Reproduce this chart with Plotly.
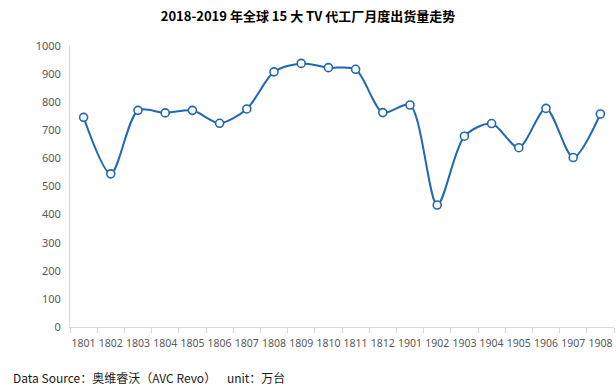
import plotly.graph_objects as go

months = ["1801", "1802", "1803", "1804", "1805", "1806", "1807", "1808", "1809", "1810",
          "1811", "1812", "1901", "1902", "1903", "1904", "1905", "1906", "1907", "1908"]
shipments = [746, 545, 771, 762, 771, 725, 776, 908, 938, 923,
             917, 763, 790, 434, 679, 724, 638, 778, 603, 758]
y_ticks = list(range(0, 1001, 100))

title_text = "2018-2019 年全球 15 大 TV 代工厂月度出货量走势"
source_text = "Data Source：奥维睿沃（AVC Revo）    unit：万台"

fig = go.Figure()
fig.add_trace(go.Scatter(
    x=months, y=shipments, mode="lines+markers",
    line=dict(color="#2067B4", width=2, shape="spline", smoothing=0.8),
    marker=dict(symbol="circle", size=8, color="white",
                line=dict(color="#2067B4", width=1.6)),
    cliponaxis=False,
))

fig.update_layout(
    width=616, height=387,
    margin=dict(l=70, r=2, t=46, b=60, autoexpand=False),
    paper_bgcolor="white", plot_bgcolor="white",
    showlegend=False,
    font=dict(family="Noto Sans CJK SC, Noto Sans, sans-serif", color="#595959", size=11),
    title=dict(text="<b>" + title_text + "</b>", x=308 / 616, xanchor="center",
               y=1 - 16 / 387, yanchor="middle",
               font=dict(size=13, color="#000000", family="Noto Sans CJK SC, sans-serif")),
    annotations=[dict(text=source_text, xref="paper", yref="paper",
                      x=-59/544, y=-50/281, xanchor="left", yanchor="middle",
                      showarrow=False,
                      font=dict(size=12, color="#1a1a1a", family="Noto Sans CJK SC, sans-serif"))],
)
fig.update_xaxes(
    type="category", range=[-0.5, 19.5], automargin=False, tickangle=0,
    showline=True, linecolor="#D9D9D9", linewidth=1,
    ticks="outside", tickson="boundaries", ticklen=5, tickcolor="#D9D9D9",
    ticklabelstandoff=6,
    showgrid=False, tickfont=dict(size=10.5, color="#595959", family="Noto Sans, sans-serif"),
)
fig.update_yaxes(
    range=[0, 1000], tickvals=y_ticks, automargin=False,
    showline=True, linecolor="#D9D9D9", linewidth=1,
    showgrid=False, zeroline=False, ticks="", ticklabelstandoff=6,
    tickfont=dict(size=11, color="#595959", family="Noto Sans, sans-serif"),
)

fig.write_html("out.html",
               config={"displayModeBar": False},
               post_script="document.body.style.margin='0';document.body.style.overflow='hidden';")
